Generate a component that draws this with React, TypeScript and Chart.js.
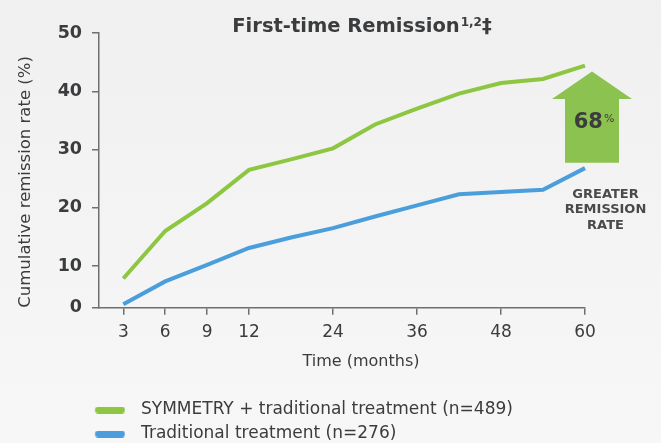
import React, { useEffect, useRef } from 'react';
import { Chart, registerables, LinearScale } from 'chart.js';

Chart.register(...registerables);

// ---------- data ----------
const MONTHS = [3, 6, 9, 12, 18, 24, 30, 36, 42, 48, 54, 60];
const SYMMETRY_RATE = [7.0, 16.0, 20.8, 26.5, 28.3, 30.2, 34.3, 37.0, 39.6, 41.4, 42.1, 44.4];
const TRADITIONAL_RATE = [0.8, 6.3, 10.2, 13.1, 14.9, 16.5, 18.5, 20.4, 22.3, 22.7, 23.1, 26.8];
const X_TICKS = [3, 6, 9, 12, 24, 36, 48, 60];
const Y_TICKS = [0, 10, 20, 30, 40, 50];
const SERIES_LABELS = ['SYMMETRY + traditional treatment (n=489)', 'Traditional treatment (n=276)'];
const GAIN_VALUE = '68';
const GAIN_UNIT = '%';
const CALLOUT_LINES = ['GREATER', 'REMISSION', 'RATE'];
const TITLE = 'First-time Remission';
const TITLE_REFS = '1,2';
const TITLE_MARK = '‡';
const X_TITLE = 'Time (months)';
const Y_TITLE = 'Cumulative remission rate (%)';

// ---------- styles ----------
const FONT = "'DejaVu Sans', sans-serif";
const GREEN = '#8dc641';
const BLUE = '#4a9edb';
const ARROW = '#8cc24f';
const AXIS = '#6f6f6f';
const TEXT = '#3b3c3e';

// Linear scale whose value range is split into segments of custom relative length
class SegmentedScale extends LinearScale {
  static id = 'segmented';
  static defaults = {};
  segDecimal(value: number): number {
    const o: any = this.options;
    const knots: number[] = o.knots;
    const spans: number[] = o.spans;
    const total = spans.reduce((a, b) => a + b, 0);
    let acc = 0;
    for (let i = 0; i < spans.length; i++) {
      const a = knots[i];
      const b = knots[i + 1];
      if (value <= b || i === spans.length - 1) {
        return (acc + ((value - a) / (b - a)) * spans[i]) / total;
      }
      acc += spans[i];
    }
    return 0;
  }
  getPixelForValue(value: any) {
    if (value === null || value === undefined || isNaN(value)) return NaN;
    return this.getPixelForDecimal(this.segDecimal(+value));
  }
  getValueForPixel(pixel: number) {
    const o: any = this.options;
    const knots: number[] = o.knots;
    const spans: number[] = o.spans;
    const total = spans.reduce((a, b) => a + b, 0);
    const d = this.getDecimalForPixel(pixel) * total;
    let acc = 0;
    for (let i = 0; i < spans.length; i++) {
      if (d <= acc + spans[i] || i === spans.length - 1) {
        return knots[i] + ((d - acc) / spans[i]) * (knots[i + 1] - knots[i]);
      }
      acc += spans[i];
    }
    return knots[0];
  }
}
Chart.register(SegmentedScale as any);

// legend marker: a 30x7 rounded pill placed off-centre inside a wider transparent image
const PILL_IMG_W = 72;
function makePill(color: string): HTMLCanvasElement {
  const c = document.createElement('canvas');
  c.width = PILL_IMG_W;
  c.height = 7;
  const g = c.getContext('2d')!;
  const x0 = PILL_IMG_W / 2 + 20.75 - 15;
  g.fillStyle = color;
  g.beginPath();
  g.moveTo(x0 + 3.5, 0);
  g.lineTo(x0 + 26.5, 0);
  g.arc(x0 + 26.5, 3.5, 3.5, -Math.PI / 2, Math.PI / 2);
  g.lineTo(x0 + 3.5, 7);
  g.arc(x0 + 3.5, 3.5, 3.5, Math.PI / 2, (3 * Math.PI) / 2);
  g.closePath();
  g.fill();
  return c;
}

const backgroundPlugin = {
  id: 'bg',
  beforeDraw(chart: any) {
    const { ctx, width, height } = chart;
    ctx.save();
    const gr = ctx.createLinearGradient(0, 0, 0, height);
    gr.addColorStop(0, '#f0f0f0');
    gr.addColorStop(1, '#f7f7f7');
    ctx.fillStyle = gr;
    ctx.fillRect(0, 0, width, height);
    ctx.restore();
  },
};

const annotationPlugin = {
  id: 'annot',
  afterDraw(chart: any) {
    const { ctx, chartArea: ca, scales } = chart;
    const xs = scales.x;
    const ys = scales.y;
    ctx.save();

    // title with superscript references
    ctx.fillStyle = TEXT;
    ctx.textBaseline = 'alphabetic';
    ctx.textAlign = 'left';
    ctx.font = `bold 19.5px ${FONT}`;
    const w1 = ctx.measureText(TITLE).width;
    ctx.font = `bold 12px ${FONT}`;
    const w2 = ctx.measureText(TITLE_REFS).width;
    ctx.font = `bold 19.5px ${FONT}`;
    const w3 = ctx.measureText(TITLE_MARK).width;
    const tcx = (ca.left + ca.right) / 2 + 20;
    let tx = tcx - (w1 + 1 + w2 + w3) / 2;
    const tBase = ca.top - 1;
    ctx.fillText(TITLE, tx, tBase);
    tx += w1 + 1;
    ctx.font = `bold 12px ${FONT}`;
    ctx.fillText(TITLE_REFS, tx, tBase - 6);
    tx += w2;
    ctx.font = `bold 19.5px ${FONT}`;
    ctx.fillText(TITLE_MARK, tx, tBase);

    // x axis title
    ctx.font = `16px ${FONT}`;
    ctx.textAlign = 'center';
    ctx.textBaseline = 'middle';
    ctx.fillText(X_TITLE, (ca.left + ca.right) / 2 + 19, ca.bottom + 54);

    // arrow between final values
    const last = MONTHS.length - 1;
    const cx = xs.getPixelForValue(MONTHS[last]) + 7;
    const tipY = ys.getPixelForValue(SYMMETRY_RATE[last]) + 6;
    const botY = ys.getPixelForValue(TRADITIONAL_RATE[last]) - 5.5;
    const headY = tipY + 27.5;
    ctx.fillStyle = ARROW;
    ctx.beginPath();
    ctx.moveTo(cx, tipY);
    ctx.lineTo(cx + 40, headY);
    ctx.lineTo(cx + 27, headY);
    ctx.lineTo(cx + 27, botY);
    ctx.lineTo(cx - 27, botY);
    ctx.lineTo(cx - 27, headY);
    ctx.lineTo(cx - 40, headY);
    ctx.closePath();
    ctx.fill();

    // 68%
    ctx.fillStyle = TEXT;
    ctx.textAlign = 'left';
    ctx.textBaseline = 'alphabetic';
    ctx.font = `bold 21px ${FONT}`;
    const wv = ctx.measureText(GAIN_VALUE).width;
    ctx.font = `11px ${FONT}`;
    const wu = ctx.measureText(GAIN_UNIT).width;
    let gx = cx + 2 - (wv + 1 + wu) / 2;
    ctx.font = `bold 21px ${FONT}`;
    ctx.fillText(GAIN_VALUE, gx, headY + 29);
    gx += wv + 1;
    ctx.font = `11px ${FONT}`;
    ctx.fillText(GAIN_UNIT, gx, headY + 22.4);

    // callout text
    ctx.fillStyle = '#4a4a4c';
    ctx.textAlign = 'center';
    ctx.font = `bold 13px ${FONT}`;
    const yB = ys.getPixelForValue(TRADITIONAL_RATE[last]);
    CALLOUT_LINES.forEach((line, i) => {
      ctx.fillText(line, cx + 13.5, yB + 29.7 + i * 15.5);
    });

    ctx.restore();
  },
};

export default function App() {
  const ref = useRef<HTMLCanvasElement>(null);
  useEffect(() => {
    const canvas = ref.current!;
    const pills = [makePill(GREEN), makePill(BLUE)];
    const chart = new Chart(canvas, {
      type: 'line',
      data: {
        datasets: [
          {
            label: SERIES_LABELS[0],
            data: MONTHS.map((m, i) => ({ x: m, y: SYMMETRY_RATE[i] })),
            borderColor: GREEN,
            backgroundColor: GREEN,
            borderWidth: 4,
            pointRadius: 0,
            tension: 0,
            clip: false as any,
          },
          {
            label: SERIES_LABELS[1],
            data: MONTHS.map((m, i) => ({ x: m, y: TRADITIONAL_RATE[i] })),
            borderColor: BLUE,
            backgroundColor: BLUE,
            borderWidth: 4,
            pointRadius: 0,
            tension: 0,
            clip: false as any,
          },
        ],
      },
      options: {
        animation: false,
        responsive: true,
        maintainAspectRatio: false,
        events: [],
        font: { family: FONT },
        layout: { padding: { top: 33, left: 39, right: 76, bottom: 0 } },
        scales: {
          x: {
            type: 'segmented' as any,
            min: 1.26,
            max: 60,
            knots: [1.26, 12, 60],
            spans: [150, 336],
            afterBuildTicks: (s: any) => {
              s.ticks = X_TICKS.map((v) => ({ value: v }));
            },
            afterFit: (s: any) => {
              s.height = 86.8;
            },
            border: { display: true, color: AXIS, width: 1.5 },
            grid: { display: true, drawOnChartArea: false, drawTicks: true, tickLength: 7, color: AXIS, lineWidth: 1.5 },
            ticks: {
              autoSkip: false,
              maxRotation: 0,
              padding: 8,
              color: TEXT,
              font: { family: FONT, size: 17 },
              callback: (v: any) => String(v),
            },
          } as any,
          y: {
            type: 'segmented' as any,
            min: 0,
            max: 50,
            knots: [0, 10, 50],
            spans: [41.7, 233],
            afterBuildTicks: (s: any) => {
              s.ticks = Y_TICKS.map((v) => ({ value: v }));
            },
            afterFit: (s: any) => {
              s.width = 60;
            },
            border: { display: true, color: AXIS, width: 1.5 },
            grid: { display: true, drawOnChartArea: false, drawTicks: true, tickLength: 7, color: AXIS, lineWidth: 1.5 },
            ticks: {
              padding: 10,
              color: TEXT,
              font: { family: FONT, size: 17.5, weight: 'bold' },
              callback: (v: any) => String(v),
            },
            title: {
              display: true,
              text: Y_TITLE,
              align: 'start',
              color: TEXT,
              font: { family: FONT, size: 16.5 },
              padding: { top: -23, bottom: 0 },
            },
          } as any,
        },
        plugins: {
          tooltip: { enabled: false },
          title: { display: false },
          legend: {
            display: true,
            position: 'bottom',
            align: 'start',
            maxHeight: 48.5,
            labels: {
              usePointStyle: true,
              pointStyleWidth: 86.5,
              padding: 7,
              color: TEXT,
              font: { family: FONT, size: 17 },
              generateLabels: (c: any) =>
                c.data.datasets.map((ds: any, i: number) => ({
                  text: ds.label,
                  fillStyle: ds.borderColor,
                  strokeStyle: ds.borderColor,
                  lineWidth: 0,
                  pointStyle: pills[i],
                  hidden: false,
                  datasetIndex: i,
                  fontColor: TEXT,
                })),
            },
          } as any,
        },
      } as any,
      plugins: [backgroundPlugin, annotationPlugin],
    });
    return () => chart.destroy();
  }, []);
  return (
    <div style={{ position: 'fixed', left: 0, top: 0, width: 661, height: 443 }}>
      <canvas ref={ref} />
    </div>
  );
}
